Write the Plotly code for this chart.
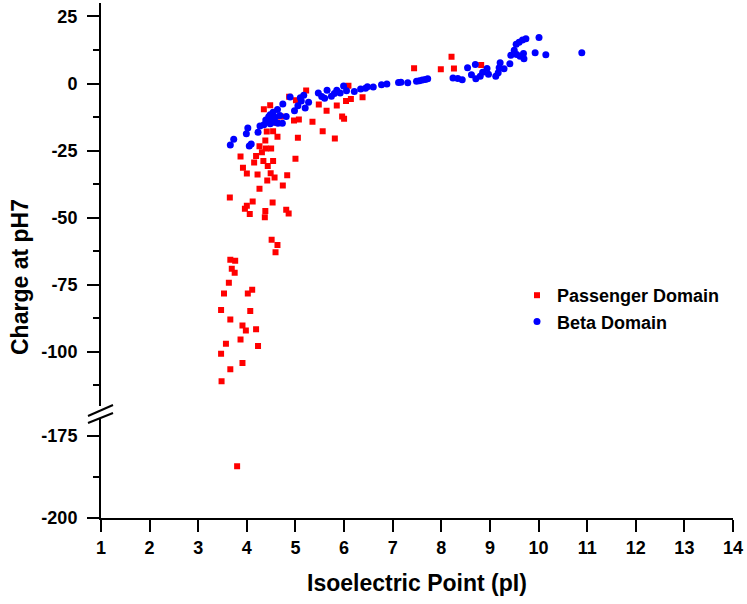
import plotly.graph_objects as go

# values
passenger_pi = [8.21, 8.82, 7.44, 7.99, 8.26, 5.22, 6.09, 4.87, 5.01, 4.35, 4.48, 5.48, 5.64, 5.85,
                6.04, 6.14, 6.38, 5.96, 6.00, 4.97, 5.07, 5.35, 4.70, 4.62, 5.56, 5.81, 5.05, 4.54,
                4.63, 4.41, 4.38, 4.26, 4.39, 4.50, 4.31, 3.87, 4.19, 5.00, 4.15, 4.34, 4.54, 3.92,
                4.43, 4.00, 4.22, 4.49, 4.83, 4.57, 4.42, 4.74, 4.26, 3.65, 4.12, 4.53, 4.00, 3.96,
                4.38, 4.06, 4.37, 4.81, 4.86, 4.51, 4.63, 4.59, 3.66, 3.76, 3.69, 3.75, 3.63, 3.53,
                4.02, 4.11, 3.47, 4.07, 3.66, 3.91, 3.98, 4.19, 3.87, 4.23, 3.57, 3.47, 3.91, 3.66,
                3.48, 3.80]
passenger_charge = [10.0, 6.9, 5.7, 5.3, 5.6, -2.6, -0.8, -4.9, -6.2, -9.6, -8.1, -7.8, -10.1, -8.2,
                    -6.5, -5.8, -5.1, -12.3, -13.1, -13.8, -13.4, -14.2, -12.3, -14.6, -17.8, -20.5, -20.2, -17.8,
                    -19.8, -17.9, -21.2, -23.4, -24.2, -24.2, -25.6, -27.2, -27.0, -28.0, -29.4, -28.9, -28.9, -31.4,
                    -30.7, -33.5, -33.9, -33.4, -34.2, -35.0, -36.1, -38.0, -39.2, -42.5, -44.0, -44.3, -45.5, -46.7,
                    -47.5, -48.6, -49.8, -47.0, -48.4, -58.2, -60.2, -62.9, -65.7, -66.0, -69.0, -70.5, -74.2, -78.2,
                    -78.2, -76.8, -84.4, -84.8, -87.9, -90.2, -92.0, -91.6, -95.4, -97.8, -97.0, -100.7, -104.1, -106.5,
                    -110.9, -184.3]

beta_pi = [3.66, 3.73, 3.99, 4.02, 4.05, 4.09, 4.23, 4.27, 4.35, 4.39, 4.45, 4.48, 4.54, 4.63, 4.74,
           4.68, 4.81, 4.55, 4.64, 4.73, 4.48, 4.41, 4.58, 4.50, 4.89, 4.98, 5.05, 5.10, 5.12, 5.17,
           5.20, 5.27, 5.47, 5.54, 5.60, 5.65, 5.74, 5.80, 5.85, 5.92, 5.99, 6.05, 6.21, 6.34, 6.44,
           6.48, 6.60, 6.77, 6.88, 7.12, 7.17, 7.31, 7.49, 7.55, 7.61, 7.67, 7.72, 8.24, 8.34, 8.43,
           8.54, 8.70, 8.62, 8.71, 8.80, 8.85, 8.94, 8.97, 9.12, 9.17, 9.19, 9.21, 9.29, 9.41, 9.43,
           9.50, 9.54, 9.60, 9.67, 9.74, 9.55, 9.62, 9.69, 9.70, 9.93, 10.01, 10.15, 10.89]
beta_charge = [-22.9, -20.8, -18.7, -16.6, -23.3, -22.5, -18.2, -15.8, -15.4, -13.6, -12.4, -11.6, -10.7, -9.7, -7.6,
               -11.9, -12.3, -14.4, -14.8, -14.8, -15.0, -14.1, -12.6, -13.0, -5.0, -10.1, -8.3, -5.3, -6.5, -4.4,
               -9.1, -7.0, -3.5, -4.8, -5.5, -2.5, -4.7, -3.7, -2.5, -3.5, -0.9, -2.7, -3.0, -2.0, -1.8,
               -1.2, -1.3, -0.5, -0.2, 0.4, 0.5, 0.3, 0.8, 1.0, 1.3, 1.5, 1.8, 2.1, 1.9, 1.4,
               5.9, 7.1, 3.3, 1.8, 2.7, 4.2, 5.6, 3.5, 2.7, 4.0, 5.9, 7.7, 5.5, 7.4, 10.5,
               12.4, 14.6, 15.4, 16.2, 16.7, 10.8, 10.2, 11.2, 9.2, 11.5, 17.1, 10.7, 11.5]

x_ticks = list(range(1, 15))
upper_ticks = [-100, -75, -50, -25, 0, 25]
lower_ticks = [-200, -175]

# broken y axis: upper segment and lower segment
upper_range = [-120, 30]
lower_range = [-200, -170]
cut = -150

font = dict(family="Arial, Liberation Sans, sans-serif", color="black", size=18, weight="bold")

up_x = [x for x, y in zip(passenger_pi, passenger_charge) if y > cut]
up_y = [y for y in passenger_charge if y > cut]
lo_x = [x for x, y in zip(passenger_pi, passenger_charge) if y <= cut]
lo_y = [y for y in passenger_charge if y <= cut]

fig = go.Figure()
fig.add_trace(go.Scatter(x=up_x, y=up_y, mode="markers", name="Passenger Domain",
                         legendgroup="p", yaxis="y",
                         marker=dict(symbol="square", size=6, color="#ff0000")))
fig.add_trace(go.Scatter(x=lo_x, y=lo_y, mode="markers", name="Passenger Domain",
                         legendgroup="p", showlegend=False, yaxis="y2",
                         marker=dict(symbol="square", size=6, color="#ff0000")))
fig.add_trace(go.Scatter(x=beta_pi, y=beta_charge, mode="markers", name="Beta Domain",
                         yaxis="y", marker=dict(symbol="circle", size=7, color="#0000ff")))

W, H = 747, 604
L, R, T, B = 101, 14, 3, 86
pw, ph = W - L - R, H - T - B


def px_x(p):
    return (p - L) / pw


def px_y(p):
    return (H - B - p) / ph


axis_common = dict(showline=True, linecolor="black", linewidth=2, ticks="outside",
                   ticklen=12, tickwidth=2, tickcolor="black", showgrid=False,
                   zeroline=False, tickfont=font, automargin=False)
minor = dict(dtick=12.5, tick0=0, ticks="outside", ticklen=6, tickwidth=2, tickcolor="black")

fig.update_layout(
    width=W, height=H,
    margin=dict(l=L, r=R, t=T, b=B, autoexpand=False),
    paper_bgcolor="white", plot_bgcolor="white",
    font=font,
    xaxis=dict(range=[1, 14], tickmode="array", tickvals=x_ticks,
               ticktext=[str(v) for v in x_ticks], anchor="y2", **axis_common),
    yaxis=dict(range=upper_range, domain=[px_y(405.6), 1], tickmode="array",
               tickvals=upper_ticks, ticktext=[str(v) for v in upper_ticks], anchor="x",
               ticklabelstandoff=6, minor=minor, **axis_common),
    yaxis2=dict(range=lower_range, domain=[0, px_y(419.3)], tickmode="array",
                tickvals=lower_ticks, ticktext=[str(v) for v in lower_ticks], anchor="x",
                ticklabelstandoff=6, minor=minor, **axis_common),
    legend=dict(x=px_x(517), y=px_y(277), xanchor="left", yanchor="top",
                bgcolor="rgba(0,0,0,0)", font=dict(size=18), tracegroupgap=0),
    showlegend=True,
)

# axis titles
fig.add_annotation(text="Isoelectric Point (pI)", xref="paper", yref="paper",
                   x=0.5, y=px_y(583), xanchor="center", yanchor="middle",
                   showarrow=False, font=dict(size=23))
fig.add_annotation(text="Charge at pH7", xref="paper", yref="paper", textangle=-90,
                   x=px_x(20), y=px_y(277), xanchor="center", yanchor="middle",
                   showarrow=False, font=dict(size=23))

# break marks on the y axis
for y0, y1 in [(416, 405), (423, 413)]:
    fig.add_shape(type="line", xref="paper", yref="paper",
                  x0=px_x(88), y0=px_y(y0), x1=px_x(113), y1=px_y(y1),
                  line=dict(color="black", width=2))

# page body has a default 8px margin; drop it so the figure sits at the window corner
fig.write_html("out.html", config={"displayModeBar": False},
               post_script="document.body.style.margin = '0';")
